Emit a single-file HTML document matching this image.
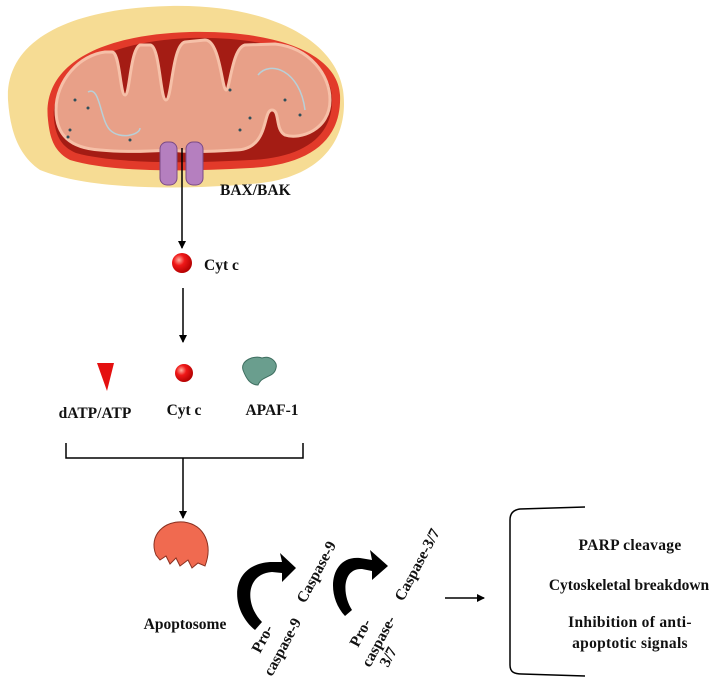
<!DOCTYPE html>
<html><head><meta charset="utf-8"><style>
html,body{margin:0;padding:0;background:#fff;}
svg{display:block;}
text{font-family:"Liberation Serif",serif;font-weight:bold;fill:#111;}
</style></head><body>
<svg width="713" height="682" viewBox="0 0 713 682" xmlns="http://www.w3.org/2000/svg">
<defs>
<radialGradient id="rb" cx="0.35" cy="0.35" r="0.7"><stop offset="0" stop-color="#ffb0a0"/><stop offset="0.4" stop-color="#f01818"/><stop offset="1" stop-color="#b00000"/></radialGradient>
<marker id="ah" markerWidth="8" markerHeight="8" refX="7" refY="4" orient="auto" markerUnits="userSpaceOnUse"><path d="M0,0 L8,4 L0,8 Z" fill="#000"/></marker>
</defs>
<!-- mitochondrion -->
<path d="M8,100 C5,40 70,8 170,6 C270,4 335,40 343,90 C350,140 320,180 250,184 C180,190 90,190 40,170 C18,155 10,130 8,100 Z" fill="#f6dc94"/>
<path d="M48,120 C42,70 90,35 190,32 C280,30 338,55 340,95 C342,140 310,165 250,168 C180,172 110,172 70,160 C55,152 50,140 48,120 Z" fill="#e23a2a"/>
<path d="M54,120 C50,78 95,42 190,38 C275,36 330,58 332,97 C334,135 305,158 250,160 C180,164 112,163 76,153 C62,147 56,137 54,120 Z" fill="#a41c14"/>
<path d="M56,110 C56,80 80,55 105,52 L112,52 C120,52 120,95 125,95 C130,95 130,50 140,45 L150,45 C160,45 160,100 166,100 C172,100 172,45 185,42 L205,40 C220,40 222,90 226,90 C230,90 232,48 245,45 L275,44 C310,48 330,75 330,100 C330,130 300,140 285,135 C275,130 280,110 272,110 C262,110 270,150 235,150 C205,152 185,152 170,150 C140,152 120,152 100,150 C70,148 56,135 56,110 Z" fill="#e8a088" stroke="#f6c0a8" stroke-width="3"/>
<g fill="#2f4f5a">
<circle cx="75" cy="100" r="1.5"/><circle cx="88" cy="108" r="1.5"/><circle cx="70" cy="130" r="1.5"/><circle cx="68" cy="137" r="1.5"/><circle cx="230" cy="90" r="1.5"/><circle cx="285" cy="100" r="1.5"/><circle cx="250" cy="118" r="1.5"/><circle cx="300" cy="115" r="1.5"/><circle cx="240" cy="130" r="1.5"/><circle cx="130" cy="140" r="1.5"/>
</g>
<path d="M88,92 C100,85 100,120 110,130 C120,140 140,135 140,128" fill="none" stroke="#b8d0d8" stroke-width="1.5"/>
<path d="M258,75 C270,60 300,70 305,110" fill="none" stroke="#b8d0d8" stroke-width="1.5"/>
<!-- BAX/BAK -->
<rect x="160" y="142" width="17" height="43" rx="7" fill="#b57fbf" stroke="#7a4a85" stroke-width="1"/>
<rect x="186" y="142" width="17" height="43" rx="7" fill="#b57fbf" stroke="#7a4a85" stroke-width="1"/>
<text x="220" y="195" font-size="15.5">BAX/BAK</text>
<line x1="182" y1="148" x2="182" y2="248" stroke="#000" stroke-width="1.5" marker-end="url(#ah)"/>
<circle cx="182" cy="263" r="10" fill="url(#rb)"/>
<text x="204" y="270" font-size="15.5">Cyt c</text>
<line x1="183" y1="288" x2="183" y2="342" stroke="#000" stroke-width="1.5" marker-end="url(#ah)"/>
<!-- row -->
<path d="M97,363 L114,363 L107,391 Z" fill="#e41010"/>
<circle cx="184" cy="373" r="9" fill="url(#rb)"/>
<path d="M243,370 C240,360 255,355 262,358 C270,355 278,362 276,368 C274,378 262,375 258,385 C250,385 246,378 243,370 Z" fill="#6a9e8e" stroke="#3e6e60" stroke-width="1"/>
<text x="95" y="418" font-size="15.5" text-anchor="middle">dATP/ATP</text>
<text x="184" y="415" font-size="15.5" text-anchor="middle">Cyt c</text>
<text x="272" y="415" font-size="15.5" text-anchor="middle">APAF-1</text>
<path d="M66,443 L66,458 L303,458 L303,443" fill="none" stroke="#000" stroke-width="1.5"/>
<line x1="183" y1="458" x2="183" y2="518" stroke="#000" stroke-width="1.5" marker-end="url(#ah)"/>
<!-- apoptosome -->
<path d="M156,555 C148,535 165,520 184,522 C205,525 213,545 205,566 L198,563 L192,568 L188,560 L180,566 L176,558 L170,564 L166,556 L160,560 Z" fill="#f06a50" stroke="#8a3020" stroke-width="1"/>
<text x="185" y="629" font-size="15.5" text-anchor="middle">Apoptosome</text>
<!-- curved arrows -->
<path d="M255,630 C230,610 228,565 270,562 L282,562 L280,553 L296,568 L282,582 L282,573 L272,572 C245,574 245,605 262,622 Z" fill="#000"/>
<path d="M345,616 C325,595 330,555 360,558 L372,560 L370,550 L388,566 L372,580 L372,571 L362,569 C342,568 342,595 352,610 Z" fill="#000"/>
<text transform="translate(305,604) rotate(-62)" font-size="15.5">Caspase-9</text>
<text transform="translate(260,654) rotate(-62)" font-size="15.5">Pro-</text>
<text transform="translate(272,677) rotate(-62)" font-size="15.5">caspase-9</text>
<text transform="translate(403,602) rotate(-62)" font-size="15.5">Caspase-3/7</text>
<text transform="translate(358,648) rotate(-62)" font-size="15.5">Pro-</text>
<text transform="translate(370,668) rotate(-62)" font-size="15.5">caspase-</text>
<text transform="translate(388,668) rotate(-62)" font-size="15.5">3/7</text>
<line x1="445" y1="598" x2="484" y2="598" stroke="#000" stroke-width="1.5" marker-end="url(#ah)"/>
<!-- right bracket -->
<path d="M585,507 L520,509 C512,510 510,515 510,520 L510,665 C510,672 514,674 522,674 L585,676" fill="none" stroke="#000" stroke-width="1.5"/>
<text x="630" y="550" font-size="15.5" text-anchor="middle" letter-spacing="0.3">PARP cleavage</text>
<text x="629" y="590" font-size="15.5" text-anchor="middle">Cytoskeletal breakdown</text>
<text x="630" y="627" font-size="15.5" text-anchor="middle" letter-spacing="0.3">Inhibition of anti-</text>
<text x="630" y="648" font-size="15.5" text-anchor="middle" letter-spacing="0.3">apoptotic signals</text>
</svg>
</body></html>
